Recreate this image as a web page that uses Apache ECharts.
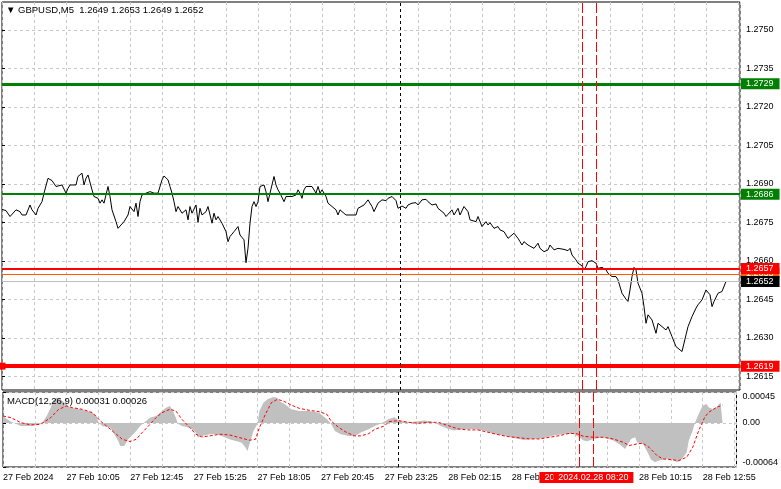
<!DOCTYPE html>
<html><head><meta charset="utf-8">
<script src="https://cdn.jsdelivr.net/npm/echarts@6/dist/echarts.min.js"></script>
<style>html,body{margin:0;padding:0;background:#fff}#c{width:781px;height:489px}</style>
</head><body><div id="c"></div>
<script>
// ---- data (bar index = 5-minute bars from the left edge) ----
const timeLabels = ['27 Feb 2024','27 Feb 10:05','27 Feb 12:45','27 Feb 15:25','27 Feb 18:05','27 Feb 20:45','27 Feb 23:25','28 Feb 02:15','28 Feb 04:55','','28 Feb 10:15','28 Feb 12:55'];
const priceTicks = [1.2615,1.2630,1.2645,1.2660,1.2675,1.2690,1.2705,1.2720,1.2735,1.2750];
const macdTicks = [-0.00064,0,0.00045];

const priceBars = [0,2,4,7,9,10,12,14,15,17,18,20,21,23,25,27,28,30,32,33,34,35,37,38,40,41,42,43,45,46,48,49,50,51,53,54,55,57,58,59,61,63,64,66,67,68,69,70,72,73,74,76,78,80,81,83,84,85,86,87,88,90,92,93,94,95,97,98,99,100,102,103,105,106,107,108,110,112,113,114,116,118,119,121,122,123,124,125,126,127,128,129,131,132,133,134,136,137,138,139,141,142,143,145,147,148,149,150,151,152,153,155,157,158,159,160,162,163,165,167,168,169,170,172,177,178,181,183,185,186,188,190,192,193,195,196,197,198,200,202,203,205,207,208,210,212,213,215,217,218,219,221,222,223,225,226,228,229,231,233,234,235,237,238,240,242,243,244,246,248,249,251,253,254,256,258,259,260,261,263,264,266,268,269,271,273,274,276,278,279,281,283,284,285,287,288,290,291,292,293,295,297,298,300,302,303,305,307,308,310,312,313,314,315,316,317,318,320,321,322,323,325,327,328,330,332,333,335,337,338,340,342,343,345,347,348,350,352,353,354,355,356,358,360,362];
const priceClose = [1.26801,1.26796,1.26773,1.26799,1.26792,1.26779,1.26779,1.26818,1.26799,1.26779,1.26805,1.26831,1.26864,1.26922,1.26913,1.26890,1.26883,1.26896,1.26864,1.26883,1.26896,1.26890,1.26896,1.26929,1.26942,1.26896,1.26922,1.26935,1.26877,1.26851,1.26844,1.26825,1.26838,1.26825,1.26890,1.26851,1.26799,1.26753,1.26727,1.26721,1.26753,1.26779,1.26812,1.26792,1.26825,1.26773,1.26831,1.26857,1.26864,1.26864,1.26870,1.26864,1.26864,1.26916,1.26931,1.26916,1.26890,1.26864,1.26831,1.26792,1.26812,1.26786,1.26799,1.26760,1.26812,1.26786,1.26818,1.26750,1.26805,1.26779,1.26792,1.26812,1.26747,1.26786,1.26760,1.26773,1.26747,1.26714,1.26675,1.26695,1.26714,1.26734,1.26701,1.26682,1.26593,1.26650,1.26747,1.26812,1.26831,1.26812,1.26831,1.26890,1.26896,1.26870,1.26831,1.26864,1.26929,1.26896,1.26877,1.26864,1.26831,1.26851,1.26844,1.26851,1.26857,1.26877,1.26864,1.26844,1.26877,1.26890,1.26896,1.26890,1.26864,1.26890,1.26864,1.26877,1.26851,1.26825,1.26812,1.26799,1.26779,1.26799,1.26792,1.26779,1.26779,1.26805,1.26818,1.26838,1.26812,1.26792,1.26825,1.26838,1.26835,1.26844,1.26851,1.26853,1.26835,1.26805,1.26814,1.26805,1.26818,1.26825,1.26827,1.26818,1.26838,1.26840,1.26831,1.26818,1.26822,1.26805,1.26799,1.26786,1.26773,1.26779,1.26799,1.26779,1.26805,1.26779,1.26812,1.26792,1.26760,1.26766,1.26753,1.26773,1.26734,1.26753,1.26740,1.26749,1.26727,1.26734,1.26721,1.26714,1.26688,1.26695,1.26708,1.26688,1.26675,1.26662,1.26675,1.26662,1.26656,1.26649,1.26669,1.26649,1.26636,1.26643,1.26662,1.26643,1.26649,1.26643,1.26645,1.26640,1.26649,1.26623,1.26604,1.26591,1.26581,1.26565,1.26578,1.26597,1.26601,1.26591,1.26571,1.26575,1.26565,1.26552,1.26539,1.26539,1.26526,1.26474,1.26451,1.26442,1.26487,1.26539,1.26575,1.26565,1.26513,1.26474,1.26422,1.26357,1.26390,1.26370,1.26318,1.26357,1.26344,1.26331,1.26344,1.26305,1.26266,1.26260,1.26247,1.26312,1.26344,1.26383,1.26416,1.26429,1.26448,1.26487,1.26494,1.26468,1.26422,1.26442,1.26474,1.26481,1.26520];

const histBars = [0,1,2,4,9,14,17,20,22,24,25,27,28,30,32,34,35,39,42,45,47,48,50,54,56,58,59,61,63,64,67,69,71,74,77,80,82,84,85,87,88,90,94,97,98,100,104,107,110,114,117,120,122,123,124,126,128,129,131,133,134,136,138,139,142,145,149,154,159,161,163,165,167,170,174,177,180,184,187,190,194,197,199,200,204,209,212,215,218,220,224,227,232,237,242,247,252,257,262,267,272,277,282,287,290,292,294,297,302,307,310,313,314,316,318,319,322,324,326,328,330,334,337,339,341,344,345,347,348,350,352,354,355,357,359,360,361,362];
const histVals = [11.6,7.7,5.3,1.9,-4.3,-4.3,-2.9,1.9,10.1,22.2,31.9,36.7,37.7,31.9,27.0,22.2,19.8,19.8,17.4,15.0,10.1,0.5,-4.3,-6.8,-16.4,-26.1,-33.3,-33.3,-23.7,-21.3,-11.6,-4.3,0.5,7.7,10.1,17.4,22.2,24.6,19.8,7.7,-1.0,-4.3,-6.8,-14.0,-21.3,-18.8,-16.4,-16.4,-18.8,-23.7,-26.1,-28.5,-35.7,-40.6,-30.9,-11.6,-1.0,17.4,29.5,34.3,36.7,37.7,36.7,31.9,27.0,19.8,17.4,17.4,15.0,10.1,5.3,-1.0,-11.6,-16.4,-18.8,-18.8,-14.0,-9.2,-4.3,-1.0,5.8,8.2,3.4,2.4,1.0,2.4,3.4,2.4,-0.5,-3.9,-8.7,-11.1,-8.7,-8.7,-11.1,-15.9,-18.4,-21.7,-24.6,-23.2,-21.7,-18.4,-15.9,-15.9,-20.8,-25.6,-26.6,-23.2,-20.8,-25.6,-30.4,-37.7,-32.8,-23.2,-20.8,-28.0,-30.4,-41.1,-53.1,-57.0,-54.6,-52.2,-53.6,-57.0,-54.6,-42.5,-25.6,-11.1,-0.5,13.0,25.1,27.5,22.7,20.3,22.7,26.6,29.9,31.0];

const sigBars = [0,4,9,14,19,24,28,32,35,40,45,49,52,57,60,64,67,70,74,77,80,84,87,90,94,97,100,104,109,114,119,124,127,129,132,135,138,141,145,149,154,159,163,165,169,173,177,180,184,187,192,194,199,204,209,214,219,224,229,234,239,244,249,254,260,265,270,275,280,285,289,292,297,302,307,312,315,319,322,325,329,332,337,340,344,347,350,353,355,359,362];
const sigVals = [10.1,7.7,0.5,-2.9,-1.9,7.7,19.8,24.6,22.2,19.8,15.0,2.9,-4.3,-16.4,-23.7,-27.0,-23.7,-14.0,-1.9,7.7,15.0,19.8,17.4,5.3,-6.8,-16.4,-20.3,-18.8,-16.4,-17.4,-21.3,-25.1,-23.7,-6.8,12.6,29.5,34.3,31.9,26.1,21.3,18.4,16.4,12.6,2.9,-6.8,-14.0,-18.8,-18.8,-15.5,-9.2,-4.3,1.9,3.4,1.0,-0.5,1.0,1.0,-3.9,-8.7,-10.1,-10.1,-13.5,-16.9,-19.8,-21.7,-23.2,-23.2,-20.8,-18.4,-15.0,-15.9,-19.3,-20.8,-20.8,-23.2,-28.0,-32.8,-30.4,-29.5,-35.3,-47.3,-52.2,-53.6,-54.6,-49.7,-35.3,-11.1,8.2,15.5,22.7,26.0];
const macdScale = 1e-5;

const levelValues = [1.2729, 1.2686, 1.2655, 1.2657, 1.2652, 1.2619];
const vLineBars = [199, 290, 297];
const vLineLabels = ['', '2024.02.28 07:45', '2024.02.28 08:20'];

// ---- styles ----
const FONT = 'Liberation Sans';
const levelStyle = [
  {color:'#008000', width:3, bg:'#008000'},
  {color:'#008000', width:2, bg:'#008000'},
  {color:'#ff5a00', width:1, bg:'#ff5a00'},
  {color:'#ff0000', width:2, bg:'#ff0000'},
  {color:'#c0c0c0', width:1, bg:'#000000'},
  {color:'#ff0000', width:4, bg:'#ff0000', sym:true}
];
const vStyle = [
  {color:'#000000', type:[3,3]},
  {color:'#ff0000', type:[10,3]},
  {color:'#ff0000', type:[10,3]}
];

const priceData = priceBars.map((b,i)=>[b, priceClose[i]]);
const histData = histBars.map((b,i)=>[b, histVals[i]*macdScale]);
const sigData = sigBars.map((b,i)=>[b, sigVals[i]*macdScale]);

const hLines = levelValues.map((v,i)=>{
  const s = levelStyle[i];
  const item = {
    yAxis: v,
    lineStyle: {color:s.color, width:s.width, type:'solid'},
    label: {show:true, position:'end', distance:1, formatter: v.toFixed(4),
      backgroundColor:s.bg, color:'#fff', fontFamily:FONT, fontSize:9,
      padding:[1,6,0,5], lineHeight:10}
  };
  if (s.sym) { item.symbol = 'rect'; item.symbolSize = 7; }
  return item;
});
// vertical lines as explicit start/end pairs spanning the panel's value range
const vLinePairs = (yMin, yMax, withLabel)=>vLineBars.map((b,i)=>[
  {coord:[b, yMin],
   lineStyle: {color:vStyle[i].color, width:1, type:vStyle[i].type, opacity:1},
   label: {show: withLabel && vLineLabels[i] !== '', position:'start', distance:5,
     formatter: vLineLabels[i], backgroundColor:'#ff0000', color:'#fff',
     fontFamily:FONT, fontSize:9, padding:[1,5,0,5], lineHeight:10}},
  {coord:[b, yMax]}
]);

const PRICE_MIN = 1.26097, PRICE_MAX = 1.27609, MACD_MIN = -0.00064, MACD_MAX = 0.00045;
const gridLine = {show:true, lineStyle:{color:'#c8c8c8', type:[3,3], width:1}};
const chart = echarts.init(document.getElementById('c'), null, {renderer:'canvas'});
chart.setOption({
  animation:false,
  backgroundColor:'#fff',
  title:[
    {text:'\u25BC GBPUSD,M5  1.2649 1.2653 1.2649 1.2652', left:6, top:5, padding:0,
     textStyle:{fontFamily:FONT, fontSize:9.5, fontWeight:'normal', color:'#000'}},
    {text:'MACD(12,26,9) 0.00031 0.00026', left:7, top:396, padding:0,
     textStyle:{fontFamily:FONT, fontSize:9.5, fontWeight:'normal', color:'#000'}}
  ],
  grid:[
    {left:2, right:41, top:2, height:388, show:true, borderColor:'#000', borderWidth:1, backgroundColor:'transparent'},
    {left:2, right:41, top:392, height:75, show:true, borderColor:'#000', borderWidth:1, backgroundColor:'transparent'}
  ],
  xAxis:[
    {type:'value', gridIndex:0, min:0, max:369, interval:16,
     axisLine:{show:false}, axisTick:{show:false}, axisLabel:{show:false}, splitLine:gridLine},
    {type:'value', gridIndex:1, min:0, max:369, interval:16,
     axisLine:{show:false}, axisTick:{show:false}, splitLine:gridLine,
     axisLabel:{show:true, align:'left', margin:6, color:'#000', fontFamily:FONT, fontSize:9,
       showMaxLabel:false,
       formatter:(v)=>{ const k=v/32; return (Number.isInteger(k) && k<timeLabels.length) ? timeLabels[k] : ''; }}}
  ],
  yAxis:[
    {type:'value', gridIndex:0, position:'right', min:PRICE_MIN, max:PRICE_MAX,
     axisLine:{show:false},
     axisTick:{show:true, length:3, lineStyle:{color:'#000'}, customValues:priceTicks},
     axisLabel:{show:true, margin:6, color:'#000', fontFamily:FONT, fontSize:9,
       customValues:priceTicks, formatter:(v)=>v.toFixed(4)},
     splitLine:gridLine},
    {type:'value', gridIndex:1, position:'right', min:MACD_MIN, max:MACD_MAX,
     axisLine:{show:false},
     axisTick:{show:true, length:3, lineStyle:{color:'#000'}, customValues:macdTicks},
     axisLabel:{show:true, margin:6, color:'#000', fontFamily:FONT, fontSize:9,
       customValues:macdTicks, verticalAlignMaxLabel:'top', verticalAlignMinLabel:'bottom',
       formatter:(v)=> Math.abs(v)<1e-12 ? '0.00' : v.toFixed(5)},
     splitLine:gridLine}
  ],
  series:[
    {type:'line', xAxisIndex:0, yAxisIndex:0, data:priceData, showSymbol:false, symbol:'none',
     lineStyle:{color:'#000', width:1}, z:3,
     markLine:{silent:true, symbol:'none', precision:6, animation:false,
       data: hLines.concat(vLinePairs(PRICE_MIN, PRICE_MAX, false))}},
    {type:'line', xAxisIndex:1, yAxisIndex:1, data:histData, showSymbol:false, symbol:'none',
     lineStyle:{width:0, color:'#c0c0c0'}, areaStyle:{color:'#c0c0c0', opacity:1, origin:'auto'}, z:2},
    {type:'line', xAxisIndex:1, yAxisIndex:1, data:sigData, showSymbol:false, symbol:'none',
     lineStyle:{color:'#ff0000', width:1, type:[3,2]}, z:3,
     markLine:{silent:true, symbol:'none', precision:8, animation:false,
       lineStyle:{color:'#ff0000', width:1},
       data: vLinePairs(MACD_MIN, MACD_MAX, true)}}
  ]
});
</script></body></html>
